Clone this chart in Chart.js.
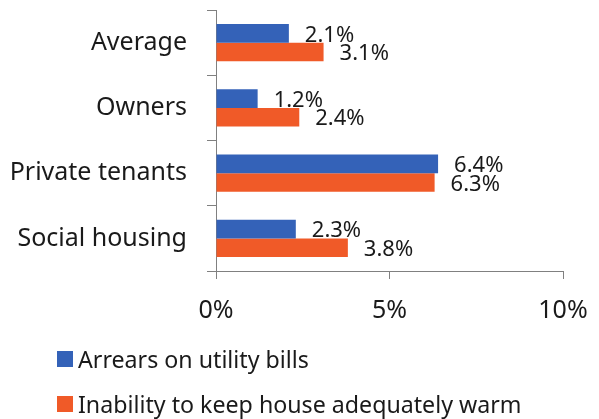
<!DOCTYPE html>
<html>
<head>
<meta charset="utf-8">
<script src="https://cdn.jsdelivr.net/npm/chart.js@4"></script>
<style>
  html, body { margin: 0; padding: 0; background: #fff; }
  #wrap { position: relative; width: 599px; height: 419px; }
  #legend { position: absolute; left: 57px; top: 0; font: 23.2px "Noto Sans", sans-serif; color: #1a1a1a; }
  .item { position: absolute; left: 0; display: flex; align-items: center; white-space: nowrap; height: 30px; }
  .box { width: 16px; height: 16px; margin-right: 5px; }
</style>
</head>
<body>
<div id="wrap">
  <canvas id="chart" width="599" height="419"></canvas>
  <div id="legend"></div>
</div>
<script>
// ---- data ----
const categories = ["Average", "Owners", "Private tenants", "Social housing"];
const arrears = [2.1, 1.2, 6.4, 2.3];
const coldHome = [3.1, 2.4, 6.3, 3.8];
const seriesNames = ["Arrears on utility bills", "Inability to keep house adequately warm"];
const seriesColors = ["#3462B8", "#F05A28"];
const xTicks = [0, 5, 10];

const FONT = '"Noto Sans", sans-serif';
const AXIS_COLOR = "#808080";

// value labels drawn just past the end of each bar
const barLabels = {
  id: "barLabels",
  afterDatasetsDraw(chart) {
    const ctx = chart.ctx;
    ctx.save();
    ctx.font = "22px " + FONT;
    ctx.fillStyle = "#1a1a1a";
    ctx.textAlign = "left";
    ctx.textBaseline = "middle";
    chart.data.datasets.forEach((ds, i) => {
      chart.getDatasetMeta(i).data.forEach((bar, j) => {
        ctx.fillText(ds.data[j].toFixed(1) + "%", bar.x + 16, bar.y + 2);
      });
    });
    ctx.restore();
  }
};

const chart = new Chart(document.getElementById("chart"), {
  type: "bar",
  data: {
    labels: categories,
    datasets: [arrears, coldHome].map((vals, i) => ({
      label: seriesNames[i],
      data: vals,
      backgroundColor: seriesColors[i],
      borderWidth: 0,
      barPercentage: 1,
      categoryPercentage: 0.57,
    })),
  },
  options: {
    responsive: false,
    animation: false,
    indexAxis: "y",
    layout: { padding: { top: 10, right: 36, left: 0, bottom: 88 } },
    plugins: {
      legend: { display: false },
      tooltip: { enabled: false },
    },
    scales: {
      x: {
        min: 0,
        max: 10,
        afterBuildTicks: (scale) => { scale.ticks = xTicks.map(v => ({ value: v })); },
        afterFit: (scale) => {
          scale.height = 60;
          scale.paddingLeft = 0;
          scale.paddingRight = 0;
        },
        ticks: {
          color: "#1a1a1a",
          font: { family: FONT, size: 25 },
          padding: 17,
          maxRotation: 0,
          callback: (v) => v + "%",
        },
        grid: { drawOnChartArea: false, drawTicks: true, tickLength: 8, color: AXIS_COLOR },
        border: { color: AXIS_COLOR },
      },
      y: {
        afterFit: (scale) => {
          scale.width = 216;
          scale.paddingTop = 0;
          scale.paddingBottom = 0;
        },
        ticks: {
          color: "#1a1a1a",
          font: { family: FONT, size: 25 },
          padding: 20,
        },
        grid: { offset: true, drawOnChartArea: false, drawTicks: true, tickLength: 9, color: AXIS_COLOR },
        border: { color: AXIS_COLOR },
      },
    },
  },
  plugins: [barLabels],
});

// legend, stacked and left aligned under the plot
const legend = document.getElementById("legend");
const legendCenters = [359, 404];
seriesNames.forEach((name, i) => {
  const item = document.createElement("div");
  item.className = "item";
  item.style.top = (legendCenters[i] - 15) + "px";
  item.innerHTML = '<span class="box" style="background:' + seriesColors[i] + '"></span><span>' + name + "</span>";
  legend.appendChild(item);
});
</script>
</body>
</html>
